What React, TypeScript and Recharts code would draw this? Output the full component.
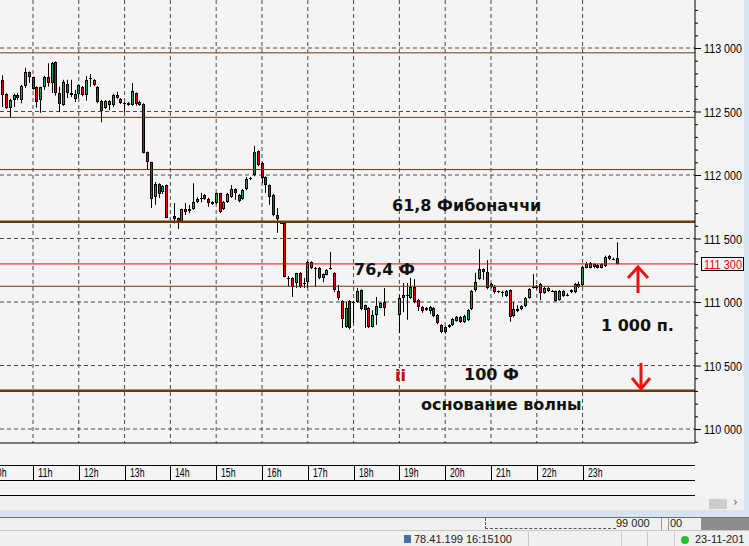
import React from 'react';
import { ComposedChart, Bar, XAxis, YAxis, CartesianGrid, ReferenceLine } from 'recharts';

// 5-minute candles
const times = [
  '10:15', '10:20', '10:25', '10:30', '10:35', '10:40', '10:45', '10:50', '10:55',
  '11:00', '11:05', '11:10', '11:15', '11:20', '11:25', '11:30', '11:35', '11:40', '11:45', '11:50', '11:55',
  '12:00', '12:05', '12:10', '12:15', '12:20', '12:25', '12:30', '12:35', '12:40', '12:45', '12:50', '12:55',
  '13:00', '13:05', '13:10', '13:15', '13:20', '13:25', '13:30', '13:35', '13:40', '13:45', '13:50', '13:55',
  '14:05', '14:10', '14:15', '14:20', '14:25', '14:30', '14:35', '14:40', '14:45', '14:50', '14:55',
  '15:00', '15:05', '15:10', '15:15', '15:20', '15:25', '15:30', '15:35', '15:40', '15:45', '15:50', '15:55',
  '16:00', '16:05', '16:10', '16:15', '16:20', '16:25', '16:30', '16:35', '16:40', '16:45', '16:50', '16:55',
  '17:00', '17:05', '17:10', '17:15', '17:20', '17:25', '17:30', '17:35', '17:40', '17:45', '17:50', '17:55',
  '18:00', '18:05', '18:10', '18:15', '18:20', '18:25', '18:30', '18:35', '18:40',
  '19:00', '19:05', '19:10', '19:15', '19:20', '19:25', '19:30', '19:35', '19:40', '19:45', '19:50', '19:55',
  '20:00', '20:05', '20:10', '20:15', '20:20', '20:25', '20:30', '20:35', '20:40', '20:45', '20:50', '20:55',
  '21:00', '21:05', '21:10', '21:15', '21:20', '21:25', '21:30', '21:35', '21:40', '21:45', '21:50', '21:55',
  '22:00', '22:05', '22:10', '22:15', '22:20', '22:25', '22:30', '22:35', '22:40', '22:45', '22:50', '22:55',
  '23:00', '23:05', '23:10', '23:15', '23:20', '23:25', '23:30', '23:35', '23:40', '23:45',
];

const opens = [
  112710, 112750, 112640, 112530, 112590, 112630, 112590, 112700, 112810,
  112770, 112695, 112590, 112690, 112770, 112725, 112890, 112645, 112550, 112715, 112645, 112600,
  112640, 112695, 112630, 112760, 112750, 112695, 112585, 112530, 112585, 112550, 112630, 112600,
  112565, 112550, 112550, 112645, 112550, 112560, 112180, 112100, 111825, 111930, 111865, 111920,
  111675, 111660, 111630, 111730, 111730, 111730, 111785, 111820, 111845, 111810, 111785,
  111780, 111855, 111730, 111785, 111825, 111890, 111845, 111810, 111890, 111978, 112000, 112190,
  112095, 111985, 111920, 111845, 111685, 111625, 111620, 111190, 111190, 111150, 111230, 111150,
  111160, 111315, 111270, 111270, 111190, 111215, 111260, 111230, 111085, 111010, 110800, 111010,
  111000, 111000, 111095, 110975, 110955, 110805, 110900, 110955, 111000,
  110900, 111030, 111055, 111030, 111120, 111015, 110960, 110955, 110930, 110955, 110900, 110820,
  110805, 110805, 110820, 110850, 110880, 110845, 110860, 110945, 111095, 111180, 111260, 111235,
  111120, 111120, 111085, 111080, 111045, 111095, 110890, 110930, 110945, 110970, 111030, 111110,
  111110, 111140, 111070, 111110, 111088, 111085, 111015, 111085, 111055, 111080, 111080, 111120,
  111135, 111270, 111270, 111300, 111290, 111270, 111285, 111360, 111342, 111345,
];

const highs = [
  112805, 112785, 112645, 112600, 112640, 112645, 112710, 112845, 112815,
  112775, 112700, 112695, 112780, 112880, 112890, 112895, 112695, 112750, 112750, 112750, 112670,
  112710, 112700, 112780, 112795, 112755, 112700, 112590, 112590, 112590, 112640, 112655, 112605,
  112575, 112575, 112725, 112650, 112585, 112565, 112185, 112105, 111945, 111935, 111920, 111925,
  111780, 111665, 111735, 111780, 111765, 111935, 111825, 111860, 111850, 111820, 111795,
  111860, 111860, 111795, 111860, 111920, 111895, 111850, 111890, 111985, 111985, 112230, 112195,
  112105, 111990, 111925, 111850, 111740, 111630, 111625, 111205, 111195, 111230, 111235, 111190,
  111325, 111320, 111275, 111275, 111225, 111260, 111395, 111235, 111135, 111015, 111000, 111015,
  111010, 111110, 111100, 110980, 110960, 110935, 111040, 110995, 111110,
  111055, 111150, 111150, 111190, 111180, 111025, 110970, 110960, 110970, 110960, 110905, 110825,
  110810, 110825, 110875, 110890, 110890, 110900, 110945, 111095, 111230, 111415, 111265, 111330,
  111150, 111135, 111090, 111090, 111095, 111100, 111000, 110975, 110975, 111040, 111110, 111220,
  111135, 111150, 111120, 111120, 111095, 111090, 111095, 111095, 111070, 111100, 111150, 111160,
  111285, 111315, 111315, 111305, 111300, 111305, 111365, 111370, 111350, 111470,
];

const lows = [
  112685, 112535, 112520, 112450, 112535, 112590, 112565, 112685, 112725,
  112670, 112530, 112490, 112670, 112695, 112645, 112625, 112495, 112545, 112605, 112615, 112575,
  112605, 112620, 112585, 112695, 112700, 112565, 112415, 112520, 112510, 112535, 112600, 112560,
  112495, 112545, 112545, 112545, 112545, 112170, 112040, 111740, 111765, 111820, 111850, 111660,
  111620, 111575, 111625, 111685, 111700, 111725, 111780, 111785, 111805, 111750, 111765,
  111770, 111700, 111725, 111780, 111820, 111805, 111785, 111805, 111880, 111960, 111990, 112070,
  111935, 111860, 111765, 111675, 111545, 111615, 111195, 111120, 111040, 111110, 111110, 111110,
  111110, 111260, 111120, 111180, 111155, 111210, 111255, 111080, 111015, 110795, 110795, 110785,
  110835, 110995, 110935, 110795, 110795, 110800, 110820, 110950, 110890,
  110755, 110920, 110860, 111025, 110990, 110930, 110915, 110930, 110905, 110880, 110825, 110755,
  110750, 110795, 110810, 110845, 110835, 110835, 110850, 110935, 111080, 111175, 111175, 111100,
  111110, 111065, 111070, 111040, 111040, 110845, 110880, 110920, 110935, 110960, 111025, 111105,
  111100, 111015, 111065, 111080, 111080, 111005, 111010, 111040, 111045, 111070, 111070, 111110,
  111125, 111265, 111265, 111265, 111265, 111265, 111275, 111330, 111330, 111295,
];

const closes = [
  112780, 112630, 112530, 112590, 112630, 112605, 112700, 112810, 112770,
  112675, 112575, 112690, 112770, 112725, 112880, 112645, 112560, 112730, 112645, 112630, 112640,
  112705, 112630, 112750, 112755, 112705, 112575, 112505, 112585, 112550, 112630, 112605, 112565,
  112560, 112565, 112660, 112560, 112575, 112175, 112100, 111810, 111930, 111850, 111915, 111665,
  111655, 111630, 111730, 111710, 111715, 111785, 111810, 111815, 111810, 111780, 111770,
  111855, 111710, 111785, 111850, 111890, 111860, 111795, 111880, 111970, 111972, 112180, 112080,
  111975, 111920, 111825, 111685, 111655, 111620, 111200, 111185, 111120, 111225, 111115, 111145,
  111315, 111270, 111265, 111190, 111220, 111255, 111265, 111095, 111030, 110865, 110955, 110795,
  110995, 111085, 110945, 110935, 110805, 110900, 110970, 110990, 110955,
  111030, 111055, 111050, 111120, 111000, 110960, 110930, 110940, 110960, 110890, 110835, 110765,
  110765, 110820, 110865, 110880, 110845, 110890, 110940, 111090, 111155, 111260, 111235, 111110,
  111140, 111080, 111075, 111070, 111085, 110880, 110945, 110945, 110970, 111035, 111105, 111115,
  111125, 111070, 111110, 111085, 111084, 111010, 111085, 111045, 111050, 111095, 111145, 111140,
  111275, 111300, 111305, 111275, 111270, 111300, 111355, 111340, 111336, 111300,
];

// Fibonacci retracement levels
const thinLevels = [112962, 112454, 112043, 111124];
const thickLevels = [111632, 110302];
const lastPrice = 111300;

const hourTicks = [0, 60, 120, 180, 240, 300, 360, 420, 480, 540, 600, 660, 720, 780];
const hourLabels = ['10h', '11h', '12h', '13h', '14h', '15h', '16h', '17h', '18h', '19h', '20h', '21h', '22h', '23h'];
const majorPrices = [110000, 110500, 111000, 111500, 112000, 112500, 113000];

const minorPrices: number[] = [];
for (let v = 109900; v <= 113300; v += 100) minorPrices.push(v);

const toMin = (t: string) => {
  const [h, m] = t.split(':').map(Number);
  return (h - 10) * 60 + m;
};

const data = times.map((t, i) => ({
  t: toMin(t), open: opens[i], high: highs[i], low: lows[i], close: closes[i],
}));

const BG = '#f4f4f4';
const BROWN = '#6b3a0b';
const GREEN = '#1a9e4c';
const RED = '#e60000';
const AXIS_FONT = "'Liberation Sans', Arial, sans-serif";
const BOLD = "'DejaVu Sans', Verdana, sans-serif";

const fmt = (v: number) => `${Math.floor(v / 1000)} ${String(v % 1000).padStart(3, '0')}`;

function Candle(props: any) {
  const { x, y, width, height, payload } = props;
  if (!payload || height == null || isNaN(y)) return null;
  const { open, close, high, low } = payload;
  const cx = Math.round(x + width / 2);
  const k = height / (high - low);
  const yOf = (v: number) => y + (high - v) * k;
  const top = Math.round(yOf(Math.max(open, close)));
  const bot = Math.round(yOf(Math.min(open, close)));
  const h = Math.max(bot - top, 1);
  return (
    <g>
      <line x1={cx + 0.5} x2={cx + 0.5} y1={y} y2={y + height} stroke="#000" />
      <rect x={cx - 1} y={top} width={3} height={h} fill="#000" />
      {h > 2 && <rect x={cx} y={top + 1} width={1} height={h - 2} fill={close >= open ? GREEN : RED} />}
    </g>
  );
}

function PriceTick(props: any) {
  const { x, y, payload } = props;
  const v = payload.value as number;
  const major = majorPrices.includes(v);
  return (
    <g>
      <line x1={x} x2={x + (major ? 6 : 3)} y1={y + 0.5} y2={y + 0.5} stroke="#000" />
      {major && (
        <text x={x + 9} y={y + 5} fontSize={12.5} fontFamily={AXIS_FONT} fill="#000"
          textLength={38} lengthAdjust="spacingAndGlyphs">{fmt(v)}</text>
      )}
    </g>
  );
}

function HourTick(props: any) {
  const { x, y, payload, index } = props;
  const px = Math.round(x) + 0.5;
  return (
    <g>
      <line x1={px} x2={px} y1={y + 22} y2={y + 37} stroke="#000" />
      <text x={px + 4.5} y={y + 34} fontSize={12.5} fontFamily={AXIS_FONT} fill="#000"
        textLength={14.5} lengthAdjust="spacingAndGlyphs">{hourLabels[index] ?? payload.value}</text>
    </g>
  );
}

function PriceTag(props: any) {
  const vb = props.viewBox;
  if (!vb) return null;
  const x = vb.x + vb.width + 6;
  const y = Math.round(vb.y);
  return (
    <g>
      <rect x={x + 0.5} y={y - 6.5} width={42} height={13} fill={BG} stroke="#000" />
      <text x={x + 3} y={y + 4.5} fontSize={12.5} fontFamily={AXIS_FONT} fill="#ff0000"
        textLength={38} lengthAdjust="spacingAndGlyphs">{fmt(lastPrice)}</text>
    </g>
  );
}

function Overlay() {
  const txt = { fontFamily: BOLD, fontWeight: 700, fontSize: 16, fill: '#111' } as const;
  return (
    <svg width={749} height={546} style={{ position: 'absolute', left: 0, top: 0, pointerEvents: 'none' }}>
      <text x={392} y={211} {...txt}>61,8 Фибоначчи</text>
      <text x={354} y={275} {...txt}>76,4 Ф</text>
      <text x={601} y={331} {...txt}>1 000 п.</text>
      <text x={464} y={380} {...txt}>100 Ф</text>
      <text x={421} y={410} {...txt}>основание волны</text>
      <text x={395} y={381} {...txt} fill="#d40000">ii</text>
      <g stroke="#ee1111" strokeWidth={3} fill="none">
        <line x1={638} x2={638} y1={293} y2={268} />
        <polyline points="628,278 638,267 648,278" />
        <line x1={641} x2={641} y1={363} y2={388} />
        <polyline points="632,378 641,389 650,378" />
      </g>
    </svg>
  );
}

export default function App() {
  return (
    <div style={{ position: 'absolute', left: 0, top: 0, width: 749, height: 546, overflow: 'hidden', background: BG }}>
      <ComposedChart width={749} height={498} data={data} margin={{ top: 0, right: 0, bottom: 0, left: 0 }}>
        <CartesianGrid
          stroke="#4a4a4a"
          strokeDasharray="4 3"
          horizontalValues={majorPrices}
          verticalValues={hourTicks.slice(1)}
        />
        <XAxis
          dataKey="t"
          type="number"
          domain={[16.77, 927.3]}
          allowDataOverflow
          ticks={hourTicks}
          interval={0}
          height={55}
          tickSize={0}
          tickMargin={0}
          tickLine={false}
          axisLine={{ stroke: '#000' }}
          tick={<HourTick />}
        />
        <YAxis
          orientation="right"
          type="number"
          domain={[109890, 113378]}
          allowDataOverflow
          ticks={minorPrices}
          interval={0}
          width={54}
          tickSize={0}
          tickMargin={0}
          tickLine={false}
          axisLine={{ stroke: '#000' }}
          tick={<PriceTick />}
        />
        {thinLevels.map((v) => (
          <ReferenceLine key={v} y={v} stroke={BROWN} strokeWidth={1} />
        ))}
        {thickLevels.map((v) => (
          <ReferenceLine key={v} y={v} stroke={BROWN} strokeWidth={2.5} />
        ))}
        <ReferenceLine y={lastPrice} stroke="#ff0000" strokeWidth={1} label={<PriceTag />} />
        <Bar dataKey={(d: any) => [d.low, d.high]} shape={<Candle />} barSize={3} isAnimationActive={false} />
      </ComposedChart>

      <Overlay />

      {/* time scale frame lines */}
      <div style={{ position: 'absolute', left: 0, top: 465, width: 695, height: 1, background: '#000' }} />
      <div style={{ position: 'absolute', left: 0, top: 480, width: 695, height: 1, background: '#000' }} />
      <div style={{ position: 'absolute', left: 0, top: 495, width: 695, height: 1, background: '#000' }} />

      {/* right blue strip */}
      <div style={{ position: 'absolute', left: 744, top: 0, width: 5, height: 510, background: '#d6e4f2' }} />

      {/* horizontal scroll bar */}
      <div style={{ position: 'absolute', left: 0, top: 497, width: 744, height: 13, background: '#f0f0f0' }} />
      <div style={{ position: 'absolute', left: 709, top: 499, width: 18, height: 10, background: '#cdcdcd' }} />
      <div style={{ position: 'absolute', left: 733, top: 495, fontSize: 12, fontFamily: 'DejaVu Sans', color: '#606060' }}>›</div>
      <div style={{ position: 'absolute', left: 0, top: 510, width: 749, height: 7, background: '#d6e4f2' }} />
      <div style={{ position: 'absolute', left: 0, top: 517, width: 749, height: 1, background: '#6e6e6e' }} />

      {/* status area */}
      <div style={{ position: 'absolute', left: 0, top: 518, width: 749, height: 28, background: '#f0f0f0' }} />
      <div style={{ position: 'absolute', left: 485, top: 518, width: 130, height: 10, borderLeft: '1px dashed #555', borderBottom: '1px dashed #555' }} />
      <div style={{ position: 'absolute', left: 616, top: 517, fontSize: 11, fontFamily: AXIS_FONT, color: '#222', lineHeight: '13px' }}>99 000</div>
      <div style={{ position: 'absolute', left: 661, top: 518, width: 1, height: 12, background: '#999' }} />
      <div style={{ position: 'absolute', left: 668, top: 518, width: 1, height: 12, background: '#999' }} />
      <div style={{ position: 'absolute', left: 670, top: 517, fontSize: 11, fontFamily: AXIS_FONT, color: '#222', lineHeight: '13px' }}>00</div>
      <div style={{ position: 'absolute', left: 701, top: 518, width: 48, height: 12, background: '#8c8c8c' }} />
      <div style={{ position: 'absolute', left: 0, top: 530, width: 749, height: 1, background: '#c8c8c8' }} />
      <div style={{ position: 'absolute', left: 528, top: 532, width: 1, height: 14, background: '#c8c8c8' }} />
      <div style={{ position: 'absolute', left: 621, top: 532, width: 1, height: 14, background: '#c8c8c8' }} />
      <div style={{ position: 'absolute', left: 647, top: 532, width: 1, height: 14, background: '#c8c8c8' }} />
      <div style={{ position: 'absolute', left: 674, top: 532, width: 1, height: 14, background: '#c8c8c8' }} />
      <div style={{ position: 'absolute', left: 404, top: 535, width: 7, height: 8, background: '#4a6fa5' }} />
      <div style={{ position: 'absolute', left: 414, top: 533, fontSize: 11, fontFamily: AXIS_FONT, color: '#222', lineHeight: '13px' }}>78.41.199 16:15100</div>
      <div style={{ position: 'absolute', left: 681, top: 536, width: 8, height: 8, borderRadius: 4, background: '#22c02a' }} />
      <div style={{ position: 'absolute', left: 695, top: 533, fontSize: 11, fontFamily: AXIS_FONT, color: '#222', lineHeight: '13px', whiteSpace: 'nowrap' }}>23-11-201</div>
    </div>
  );
}
